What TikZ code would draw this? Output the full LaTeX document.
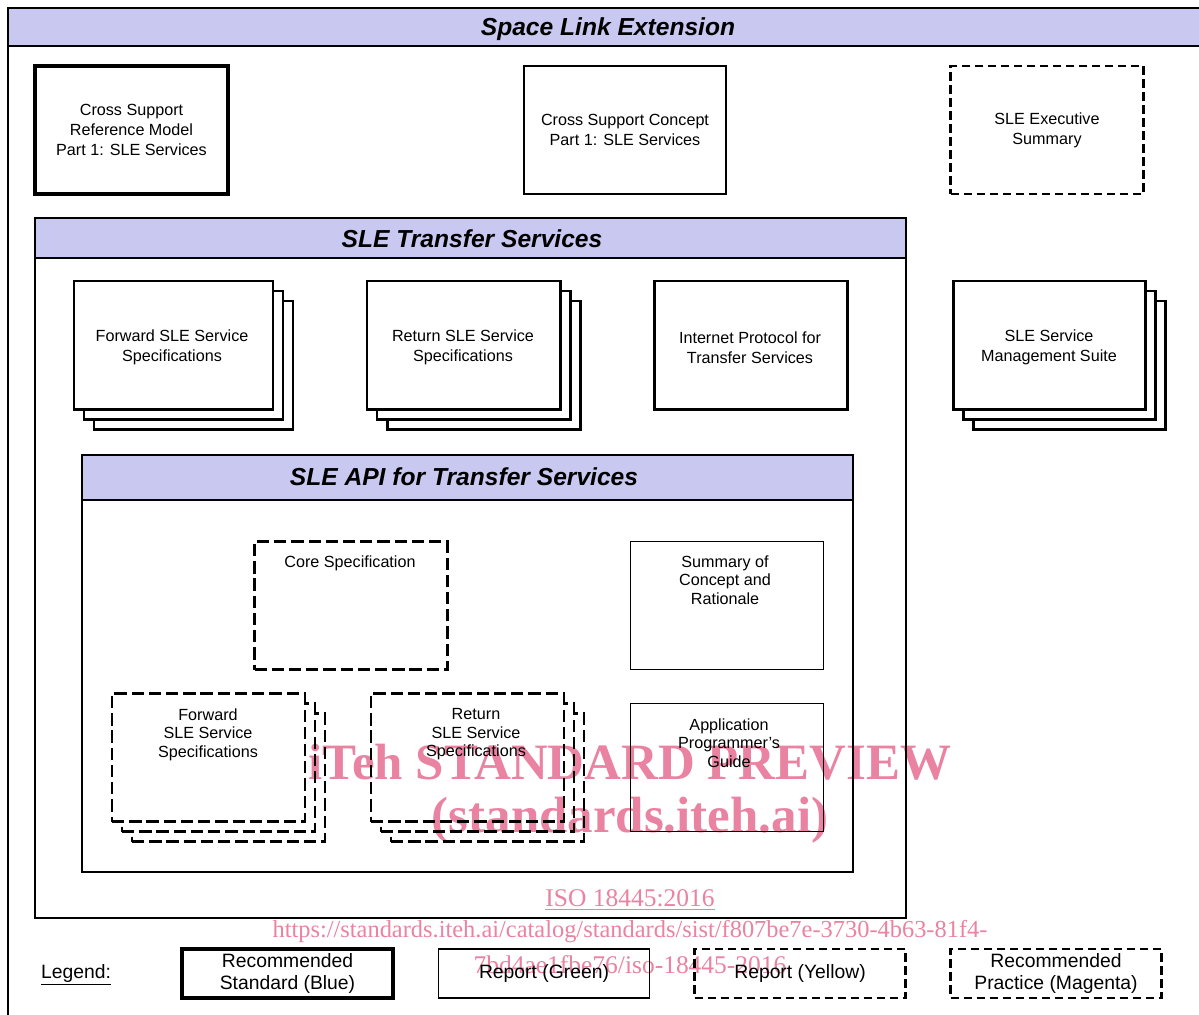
\documentclass[tikz,border=0pt]{standalone}
\usepackage{fontspec}
\setmainfont{Liberation Sans}
\newfontfamily\wmfont{Liberation Serif}
\usetikzlibrary{positioning}

\definecolor{bandblue}{RGB}{200,200,240}
\definecolor{wmpink}{RGB}{234,130,162}
\newcommand{\px}{0.02cm}

\tikzset{
        doc/.style={draw=black, fill=white, align=center, inner sep=0pt, minimum width=193*\px, minimum height=128*\px, font=\fontsize{9.2}{11.4}\selectfont},
        stdbox/.style={doc, line width=2.3pt},
        stackbox/.style={doc, line width=1.7pt},
        reportbox/.style={doc, line width=0.6pt},
        practbox/.style={doc, line width=1.2pt, dash pattern=on 5pt off 2.4pt},
        apibox/.style={doc, line width=1.5pt, dash pattern=on 7pt off 2.8pt},
        boxtext/.style={align=center, inner sep=0pt, font=\fontsize{9.2}{11.4}\selectfont},
        toptext/.style={anchor=north, align=center, inner sep=0pt, font=\fontsize{9.2}{10.6}\selectfont},
        frame/.style={draw=black, line width=1pt},
        band/.style={draw=black, fill=bandblue, line width=1pt},
        bandtitle/.style={font=\fontsize{14}{16}\selectfont\bfseries\itshape},
        legendbox/.style={minimum width=211*\px, minimum height=49*\px, font=\fontsize{11}{13}\selectfont},
        watermark/.style={text=wmpink, font=\wmfont\fontsize{29}{32}\selectfont\bfseries},
        wmlink/.style={text=wmpink, font=\wmfont\fontsize{14.5}{16}\selectfont}
          }

\begin{document}
\begin{tikzpicture}[x=\px, y=-\px]
  \useasboundingbox (0,0) rectangle (1199,1014);
  \clip (0,0) rectangle (1199,1014);
  % outer frame
  \draw[frame] (8,8) rectangle (1210,1025);
  \draw[band] (8,8) rectangle (1210,46);
  \node[bandtitle] (sle) at (608,29) {Space Link Extension};

  \node[stdbox] (csrm) at (131.5,130) {Cross Support\\Reference Model\\Part 1: SLE Services};
  \node[reportbox, minimum width=202*\px] (csc) at (625,130) {Cross Support Concept\\Part 1: SLE Services};
  \node[practbox] (exec) at (1047,130) {SLE Executive\\Summary};

  % transfer services
  \draw[frame] (35,218) rectangle (906,918);
  \draw[band] (35,218) rectangle (906,258);
  \node[bandtitle] (ts) at (472,239) {SLE Transfer Services};

  \foreach \d in {20,10} {
    \node[stackbox, minimum width=199*\px] (fwd-\d) at (173.5+\d,345+\d) {};
    \node[stackbox] (ret-\d) at (463.5+\d,345+\d) {};
    \node[stackbox, minimum width=192*\px] (mgmt-\d) at (1049+\d,345+\d) {};
  }
  \node[stackbox, minimum width=199*\px] (fwd) at (173.5,345) {};
  \node[boxtext] (fwd-t) at (172,347.5) {Forward SLE Service\\Specifications};
  \node[stackbox] (ret) at (463.5,345) {};
  \node[boxtext] (ret-t) at (463,347.5) {Return SLE Service\\Specifications};
  \node[stackbox] (ip) at (750.5,345) {};
  \node[boxtext] (ip-t) at (750,347.5) {Internet Protocol for\\Transfer Services};
  \node[stackbox, minimum width=192*\px] (mgmt) at (1049,345) {};
  \node[boxtext] (mgmt-t) at (1049,347.5) {SLE Service\\Management Suite};

  % API
  \draw[frame] (82,455) rectangle (853,872);
  \draw[band] (82,455) rectangle (853,500);
  \node[bandtitle] (api) at (464,477) {SLE API for Transfer Services};

  \node[apibox] (core) at (351,605.5) {};
  \node[toptext] (core-t) at (350,555) {Core Specification};
  \node[reportbox] (sum) at (727,605.5) {};
  \node[toptext] (sum-t) at (725,555) {Summary of\\Concept and\\Rationale};

  \foreach \d in {20,10} {
    \node[apibox] (afwd-\d) at (208.5+\d,757.5+\d) {};
    \node[apibox] (aret-\d) at (467.5+\d,757.5+\d) {};
  }
  \node[apibox] (afwd) at (208.5,757.5) {};
  \node[toptext] (afwd-t) at (208,708) {Forward\\SLE Service\\Specifications};
  \node[apibox] (aret) at (467.5,757.5) {};
  \node[toptext] (aret-t) at (476,708) {Return\\SLE Service\\Specifications};
  \node[reportbox] (apg) at (727,767.5) {};
  \node[toptext] (apg-t) at (729,718) {Application\\Programmer's\\Guide};

  % legend
  \node[font=\fontsize{11}{13}\selectfont] (leg) at (76,975) {\underline{Legend:}};
  \node[stdbox, legendbox] (l-std) at (287.5,973.5) {Recommended\\Standard (Blue)};
  \node[reportbox, legendbox] (l-green) at (544,973.5) {Report (Green)};
  \node[practbox, legendbox] (l-yellow) at (800,973.5) {Report (Yellow)};
  \node[practbox, legendbox] (l-mag) at (1056,973.5) {Recommended\\Practice (Magenta)};

  % watermark
  \begin{scope}[blend mode=multiply]
    \node[watermark] (wm1) at (630,762) {iTeh STANDARD PREVIEW};
    \node[watermark] (wm2) at (630,820) {(standards.iteh.ai)};
    \node[wmlink] (iso) at (630,900) {\underline{ISO 18445:2016}};
    \node[wmlink, font=\wmfont\fontsize{13.9}{16}\selectfont] (url1) at (630,932) {https://standards.iteh.ai/catalog/standards/sist/f807be7e-3730-4b63-81f4-};
    \node[wmlink] (url2) at (630,965) {7bd4ae1fbe76/iso-18445-2016};
  \end{scope}
\end{tikzpicture}
\end{document}
